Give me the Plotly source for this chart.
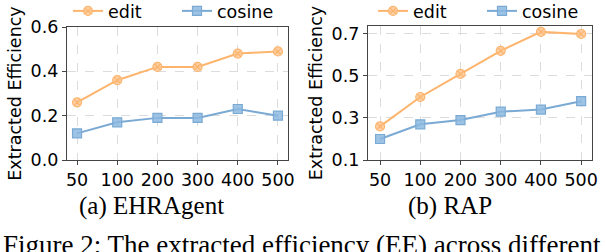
import plotly.graph_objects as go

W, H = 606, 252

categories = ["50", "100", "200", "300", "400", "500"]
ehr_edit = [0.26, 0.36, 0.42, 0.42, 0.48, 0.49]
ehr_cosine = [0.12, 0.17, 0.19, 0.19, 0.23, 0.20]
rap_edit = [0.26, 0.40, 0.51, 0.62, 0.71, 0.70]
rap_cosine = [0.20, 0.27, 0.29, 0.33, 0.34, 0.38]
ehr_yticks = [0.0, 0.2, 0.4, 0.6]
rap_yticks = [0.1, 0.3, 0.5, 0.7]
series_names = ["edit", "cosine"]
captions = ["(a) EHRAgent", "(b) RAP"]
figure_caption = "Figure 2: The extracted efficiency (EE) across different"

ORANGE = "#FDB46C"
ORANGE_FILL = "rgba(253,200,150,0.85)"
BLUE = "#7AAAD4"
BLUE_FILL = "rgba(140,185,225,0.85)"

def px(x):
    return x / W

def py(y):
    return (H - y) / H

fig = go.Figure()

def add_panel(xa, ya, edit, cosine, legend):
    fig.add_trace(go.Scatter(
        x=categories, y=edit, name=series_names[0], mode="lines+markers",
        xaxis=xa, yaxis=ya, legend=legend, showlegend=True,
        line=dict(color=ORANGE, width=2),
        marker=dict(symbol="circle-x", size=9, color=ORANGE_FILL,
                    line=dict(color=ORANGE, width=1.2)),
    ))
    fig.add_trace(go.Scatter(
        x=categories, y=cosine, name=series_names[1], mode="lines+markers",
        xaxis=xa, yaxis=ya, legend=legend, showlegend=True,
        line=dict(color=BLUE, width=2),
        marker=dict(symbol="square", size=9, color=BLUE_FILL,
                    line=dict(color=BLUE, width=1.2)),
    ))

add_panel("x", "y", ehr_edit, ehr_cosine, "legend")
add_panel("x2", "y2", rap_edit, rap_cosine, "legend2")

tickfont = dict(family="DejaVu Sans", size=17.5, color="black")
axis_common = dict(
    showline=True, mirror=True, linecolor="#444", linewidth=1.3,
    showgrid=True, gridcolor="#dcdcdc", griddash="dash", gridwidth=1,
    ticks="outside", ticklen=4, tickcolor="#444", tickfont=tickfont,
    zeroline=False, automargin=False,
)
title_font = dict(family="DejaVu Sans", size=17.5, color="black")
legend_common = dict(
    orientation="h", xanchor="left", yanchor="top",
    bgcolor="rgba(0,0,0,0)", font=dict(family="DejaVu Sans", size=17.5, color="black"),
    entrywidth=64, entrywidthmode="pixels", tracegroupgap=0,
)

fig.update_layout(
    width=W, height=H,
    margin=dict(l=0, r=0, t=0, b=0, autoexpand=False),
    paper_bgcolor="white", plot_bgcolor="white",
    xaxis=dict(domain=[px(67), px(288)], anchor="y", type="category", tickangle=0,
               range=[-0.25, 5.25], **axis_common),
    yaxis=dict(domain=[py(160), py(27)], anchor="x", range=[0, 0.6],
               tickvals=ehr_yticks, ticktext=[f"{v:.1f}" for v in ehr_yticks],
               title=dict(text="Extracted Efficiency", standoff=4, font=title_font),
               **axis_common),
    xaxis2=dict(domain=[px(368), px(592)], anchor="y2", type="category", tickangle=0,
                range=[-0.3, 5.27], **axis_common),
    yaxis2=dict(domain=[py(160), py(26)], anchor="x2", range=[0.1, 0.738],
                tickvals=rap_yticks, ticktext=[f"{v:.1f}" for v in rap_yticks],
                title=dict(text="Extracted Efficiency", standoff=4, font=title_font),
                **axis_common),
    legend=dict(x=px(68), y=py(-7), **legend_common),
    legend2=dict(x=px(373), y=py(-7), **legend_common),
    showlegend=True,
)

fig.add_annotation(text=captions[0], xref="paper", yref="paper", x=px(151), y=py(206),
                   xanchor="center", yanchor="middle", showarrow=False,
                   font=dict(family="Liberation Serif", size=25, color="black"))
fig.add_annotation(text=captions[1], xref="paper", yref="paper", x=px(450), y=py(206),
                   xanchor="center", yanchor="middle", showarrow=False,
                   font=dict(family="Liberation Serif", size=25, color="black"))
fig.add_annotation(text=figure_caption, xref="paper", yref="paper", x=px(1), y=py(245),
                   xanchor="left", yanchor="middle", showarrow=False,
                   font=dict(family="Liberation Serif", size=27, color="black"))

fig.write_html("out.html", config={"displayModeBar": False},
               post_script="document.body.style.margin='0';")
